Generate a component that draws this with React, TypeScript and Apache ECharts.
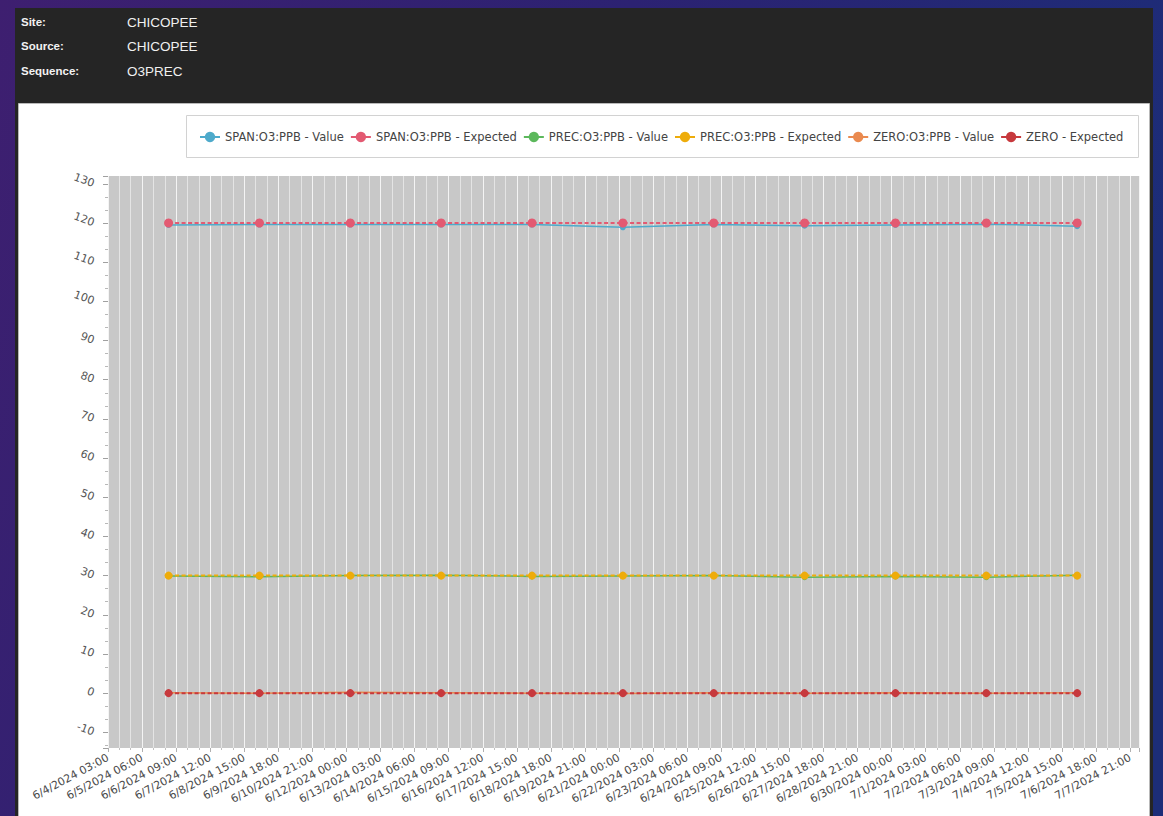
import React, { useEffect, useRef } from "react";
import * as echarts from "echarts";

const headerLabels = ["Site:", "Source:", "Sequence:"];
const headerValues = ["CHICOPEE", "CHICOPEE", "O3PREC"];

const axisStartTime = "2024-06-04 03:00";
const axisEndTime = "2024-07-08 04:00";
const tickStepHours = 27;

const sampleTimes = [
  "2024-06-06 03:00",
  "2024-06-09 03:00",
  "2024-06-12 03:00",
  "2024-06-15 03:00",
  "2024-06-18 03:00",
  "2024-06-21 03:00",
  "2024-06-24 03:00",
  "2024-06-27 03:00",
  "2024-06-30 03:00",
  "2024-07-03 03:00",
  "2024-07-06 03:00",
];

const spanValue = [119.5, 119.6, 119.6, 119.6, 119.6, 118.9, 119.6, 119.3, 119.5, 119.7, 119.2];
const spanExpected = [120, 120, 120, 120, 120, 120, 120, 120, 120, 120, 120];
const precValue = [29.9, 29.7, 30.0, 30.1, 29.8, 29.9, 30.0, 29.6, 29.8, 29.6, 30.1];
const precExpected = [30, 30, 30, 30, 30, 30, 30, 30, 30, 30, 30];
const zeroValue = [0.1, 0.0, 0.2, 0.1, 0.0, -0.1, 0.1, 0.0, 0.1, 0.0, 0.1];
const zeroExpected = [0, 0, 0, 0, 0, 0, 0, 0, 0, 0, 0];

const seriesNames = [
  "SPAN:O3:PPB - Value",
  "SPAN:O3:PPB - Expected",
  "PREC:O3:PPB - Value",
  "PREC:O3:PPB - Expected",
  "ZERO:O3:PPB - Value",
  "ZERO - Expected",
];
const seriesColors = ["#4eaacb", "#e35a72", "#5cb85c", "#eeac0a", "#ea8a4f", "#c7393d"];

function parseMs(s: string): number {
  const [d, t] = s.split(" ");
  const [y, m, dd] = d.split("-").map(Number);
  const [hh, mm] = t.split(":").map(Number);
  return Date.UTC(y, m - 1, dd, hh, mm);
}
const originMs = parseMs(axisStartTime);
const toHours = (s: string) => (parseMs(s) - originMs) / 3600000;
const pad = (n: number) => (n < 10 ? "0" + n : "" + n);
const fmt = (v: number) => {
  const dt = new Date(originMs + v * 3600000);
  return `${dt.getUTCMonth() + 1}/${dt.getUTCDate()}/${dt.getUTCFullYear()} ${pad(dt.getUTCHours())}:${pad(dt.getUTCMinutes())}`;
};

export default function App() {
  const ref = useRef<HTMLDivElement>(null);
  useEffect(() => {
    if (!ref.current) return;
    const chart = echarts.init(ref.current, undefined, { renderer: "svg" });
    const xs = sampleTimes.map(toHours);
    const pairs = (vals: number[]) => vals.map((v, i) => [xs[i], v]);
    const valuesList = [spanValue, spanExpected, precValue, precExpected, zeroValue, zeroExpected];
    const font = "DejaVu Sans";
    const series = valuesList.map((vals, i) => {
      const expected = i % 2 === 1;
      return {
        name: seriesNames[i],
        type: "line",
        data: pairs(vals),
        symbol: "circle",
        symbolSize: expected ? (i === 1 ? 9 : 8) : 6,
        z: expected ? 4 : 3,
        lineStyle: {
          width: expected ? 2 : 1.5,
          color: seriesColors[i],
          type: expected ? [4, 2.5] : "solid",
        },
        itemStyle: { color: seriesColors[i] },
        emphasis: { disabled: true },
      };
    });

    const graphics: any[] = [
      { type: "rect", z: -10, shape: { x: 15, y: 8, width: 1138, height: 810 }, style: { fill: "#252525" } },
      {
        type: "rect",
        z: -9,
        shape: { x: 18.5, y: 103.5, width: 1131, height: 720 },
        style: { fill: "#ffffff", stroke: "#b9b9b9", lineWidth: 1 },
      },
      {
        type: "rect",
        z: -8,
        shape: { x: 186.5, y: 115.5, width: 952, height: 42 },
        style: { fill: "#ffffff", stroke: "#d2d2d2", lineWidth: 1 },
      },
    ];
    const rowY = [22, 46, 71];
    headerLabels.forEach((lab, i) => {
      graphics.push({
        type: "text",
        z: 2,
        x: 21,
        y: rowY[i],
        style: {
          text: lab,
          fill: "#f2f2f2",
          font: `bold 11.5px "Liberation Sans", Arial, sans-serif`,
          textVerticalAlign: "middle",
          verticalAlign: "middle",
        },
      });
      graphics.push({
        type: "text",
        z: 2,
        x: 127,
        y: rowY[i],
        style: {
          text: headerValues[i],
          fill: "#f0f0f0",
          font: `13.5px "Liberation Sans", Arial, sans-serif`,
          textVerticalAlign: "middle",
          verticalAlign: "middle",
        },
      });
    });

    chart.setOption({
      animation: false,
      backgroundColor: new echarts.graphic.LinearGradient(0, 0, 1, 0.3, [
        { offset: 0, color: "#3e1f70" },
        { offset: 0.5, color: "#2c2272" },
        { offset: 1, color: "#1c2d78" },
      ]),
      graphic: { elements: graphics },
      legend: {
        left: 194,
        top: 126,
        itemWidth: 20,
        itemHeight: 13,
        itemGap: 6,
        data: seriesNames,
        lineStyle: { type: "solid", width: 2 },
        textStyle: { fontFamily: font, fontSize: 11.5, color: "#444" },
        z: 5,
      },
      grid: {
        left: 108,
        top: 176,
        right: 24,
        bottom: 68,
        show: true,
        backgroundColor: "#c8c8c8",
        borderWidth: 0,
      },
      xAxis: {
        type: "value",
        min: 0,
        max: toHours(axisEndTime),
        interval: tickStepHours,
        z: 2,
        axisLine: { show: false, onZero: false },
        axisTick: { show: true, length: 4, lineStyle: { color: "#b0b0b0" } },
        minorTick: { show: true, splitNumber: 3, length: 2, lineStyle: { color: "#c0c0c0" } },
        splitLine: { show: true, lineStyle: { color: "#f4f4f4", width: 1 } },
        minorSplitLine: { show: true, lineStyle: { color: "#e4e4e4", width: 1 } },
        axisLabel: {
          rotate: 28,
          margin: 9,
          showMaxLabel: false,
          formatter: (v: number) => fmt(v),
          fontFamily: font,
          fontSize: 11,
          color: "#4a4a4a",
        },
      },
      yAxis: {
        type: "value",
        min: -14,
        max: 132,
        splitNumber: 14,
        z: 2,
        axisLine: { show: false },
        axisTick: { show: true, length: 5, lineStyle: { color: "#a0a0a0" } },
        minorTick: { show: true, splitNumber: 3, length: 3, lineStyle: { color: "#b8b8b8" } },
        splitLine: { show: false },
        axisLabel: {
          rotate: -20,
          margin: 14,
          showMinLabel: false,
          showMaxLabel: false,
          fontFamily: font,
          fontSize: 11,
          color: "#555",
        },
      },
      series,
    } as any);
    return () => chart.dispose();
  }, []);
  return (
    <div
      ref={ref}
      style={{ position: "absolute", left: 0, top: 0, width: 1163, height: 816 }}
    />
  );
}
